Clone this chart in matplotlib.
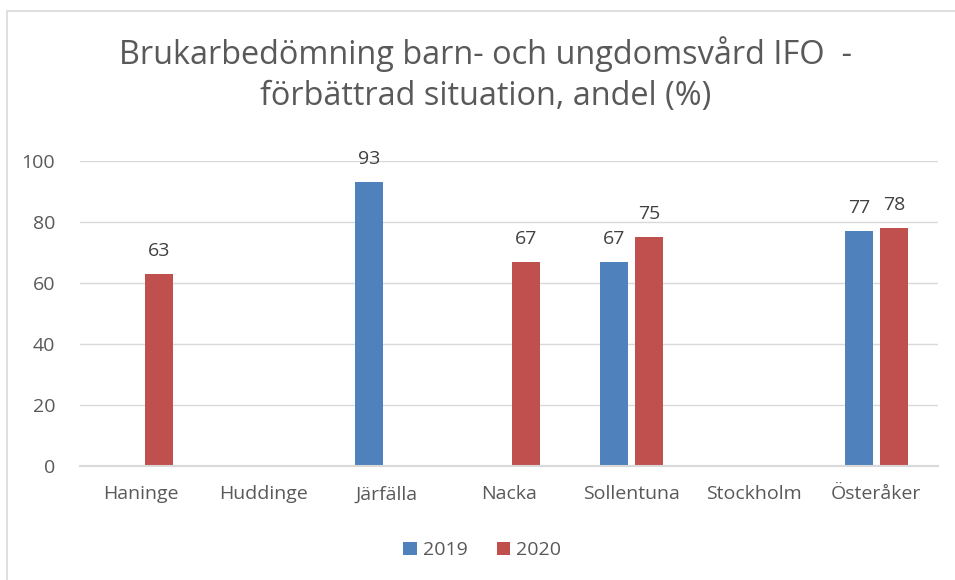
import numpy as np
import matplotlib.pyplot as plt
from matplotlib.patches import Rectangle

# data
kommuner = ['Haninge', 'Huddinge', 'Järfälla', 'Nacka', 'Sollentuna', 'Stockholm', 'Österåker']
v2019 = [np.nan, np.nan, 93, np.nan, 67, np.nan, 77]
v2020 = [63, np.nan, np.nan, 67, 75, np.nan, 78]
yticks = [0, 20, 40, 60, 80, 100]

blue = '#4F81BD'
red = '#C0504D'
textc = '#595959'

plt.rcParams['font.family'] = ['Open Sans', 'DejaVu Sans']

fig = plt.figure(figsize=(9.55, 5.8), dpi=100)
ax = fig.add_axes([0.0838, 0.1966, 0.898, 0.5258])

x = np.arange(len(kommuner))
w = 0.23
off = 0.1435
b1 = ax.bar(x - off, v2019, w, color=blue, label='2019', zorder=3)
b2 = ax.bar(x + off, v2020, w, color=red, label='2020', zorder=3)
for bars in (b1, b2):
    ax.bar_label(bars, fmt='%.0f', padding=10, fontsize=14, color='#404040')

ax.set_xlim(-0.5, len(kommuner) - 0.5)
ax.set_ylim(0, 100)
ax.set_yticks(yticks)
ax.set_xticks(x)
ax.set_xticklabels(kommuner)
ax.tick_params(axis='both', length=0, labelsize=14, labelcolor=textc)
ax.tick_params(axis='y', pad=18)
ax.tick_params(axis='x', pad=14)
ax.grid(axis='y', color='#D9D9D9', lw=1, zorder=0)
for s in ['top', 'right', 'left']:
    ax.spines[s].set_visible(False)
ax.spines['bottom'].set_color('#D9D9D9')
ax.spines['bottom'].set_linewidth(1.5)
ax.spines['bottom'].set_zorder(4)

fig.text(0.508, 0.871, 'Brukarbedömning barn- och ungdomsvård IFO  -\nförbättrad situation, andel (%)',
         ha='center', va='center', fontsize=23.4, color=textc, linespacing=1.33)

fig.legend(loc='center', bbox_to_anchor=(0.505, 0.051), ncol=2, frameon=False,
           fontsize=14, labelcolor=textc, handlelength=0.7, handleheight=0.7,
           handletextpad=0.3, columnspacing=1.5)

fig.patches.append(Rectangle((0.0073, -0.01), 1.2, 0.991, transform=fig.transFigure,
                             fill=False, edgecolor='#D9D9D9', lw=1.2))

fig.savefig('out.png', dpi=100)
